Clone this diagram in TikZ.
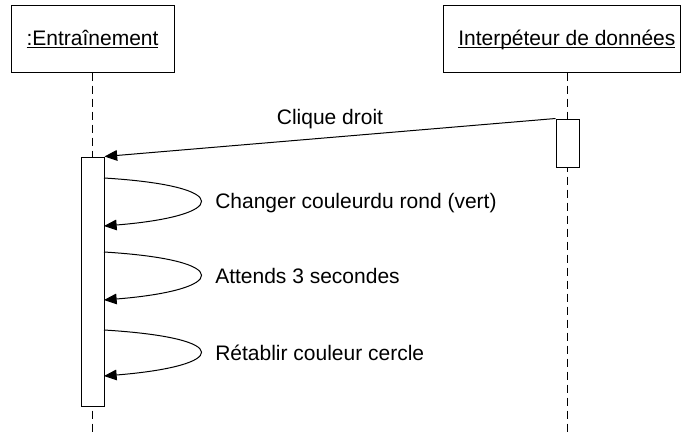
\documentclass[tikz,border=0pt]{standalone}
\usepackage{fontspec}
\setmainfont{Liberation Sans}
\usetikzlibrary{arrows.meta}

\newcommand{\objname}[1]{\underline{\smash{#1}}\vphantom{Ép}}

\tikzset{
  objbox/.style={draw, line width=0.75pt, minimum height=50.25pt, inner sep=0pt},
  actbar/.style={draw, fill=white, line width=0.75pt, minimum width=17.25pt, inner sep=0pt},
  lifeline/.style={line width=0.75pt, dash pattern=on 6pt off 3.75pt},
  msg/.style={line width=0.75pt, -{Triangle[length=9.5pt,width=8pt]}},
  msglabel/.style={inner sep=0pt, font=\fontsize{15.75}{19}\selectfont}
}

\begin{document}
\begin{tikzpicture}[x=0.75pt, y=-0.75pt, font=\fontsize{15.75}{19}\selectfont]
        \useasboundingbox (0,0) rectangle (681,433);

        % objets
        \node[objbox, minimum width=122.25pt] (entr) at (92.5,38.5) {\objname{:Entraînement}};
        \node[objbox, minimum width=177.75pt] (interp) at (561.5,38.5) {\hspace{8pt}\objname{Interpéteur de données}};

        % lignes de vie
        \coordinate (endE) at (92.5,433);
        \coordinate (endI) at (567.5,433);
        \draw[lifeline] (entr.south -| endE) -- (endE);
        \draw[lifeline] (interp.south -| endI) -- (endI);

        % activations
        \node[actbar, minimum height=186.75pt] (actE) at (92.5,281.5) {};
        \node[actbar, minimum height=36pt] (actI) at (567.5,143) {};

        % message
        \draw[msg] (actI.north west) -- (actE.north east);
        \node[msglabel] (clique) at (330,119) {Clique droit};

        % appels sur soi-meme
        \coordinate (a1) at (104,178); \coordinate (b1) at (104,226);
        \coordinate (a2) at (104,252); \coordinate (b2) at (104,300);
        \coordinate (a3) at (104,330); \coordinate (b3) at (104,376);
        \draw[msg] (a1) .. controls (236,186) and (228,216) .. (b1);
        \draw[msg] (a2) .. controls (236,260) and (228,290) .. (b2);
        \draw[msg] (a3) .. controls (236,338) and (228,366) .. (b3);
        \node[msglabel, anchor=west] (lab1) at (215,203) {Changer couleurdu rond (vert)};
        \node[msglabel, anchor=west] (lab2) at (215,276) {Attends 3 secondes};
        \node[msglabel, anchor=west] (lab3) at (215,353) {Rétablir couleur cercle};
\end{tikzpicture}
\end{document}
